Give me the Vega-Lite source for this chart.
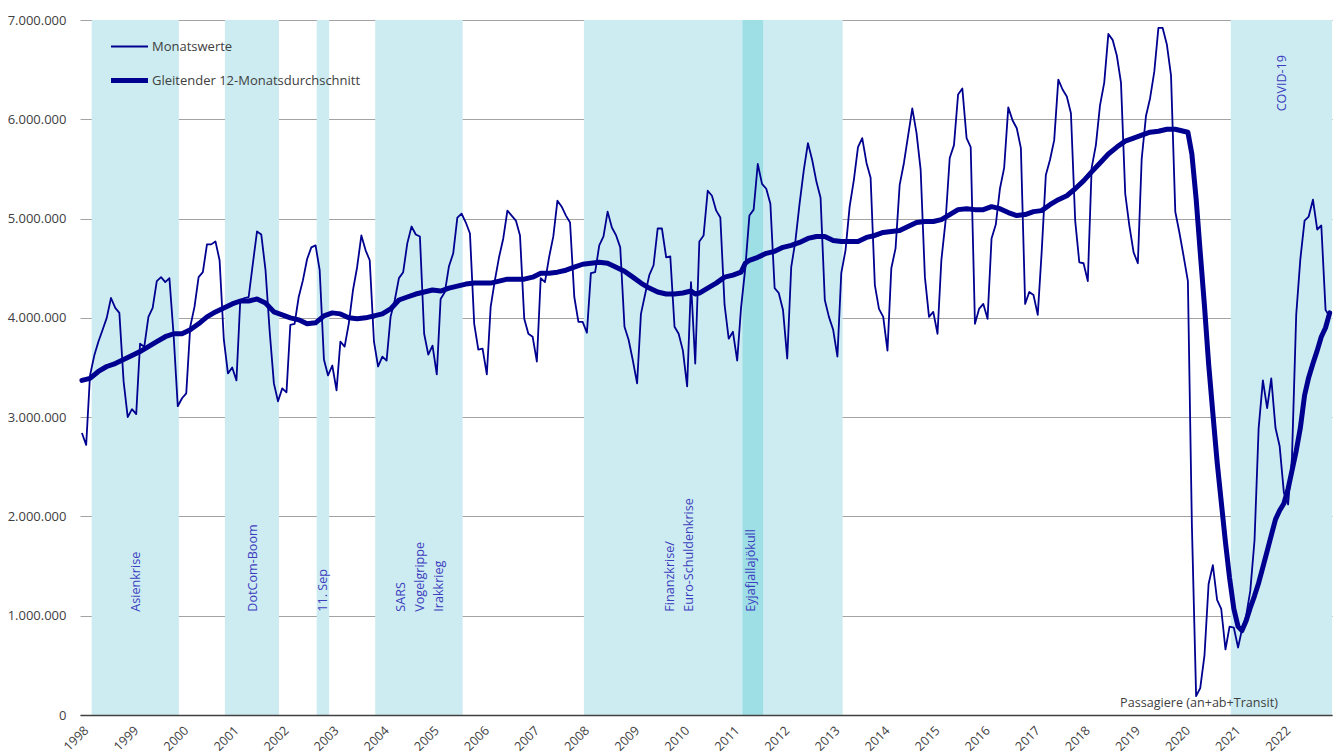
{
  "$schema": "https://vega.github.io/schema/vega-lite/v6.json",
  "width": 1252,
  "height": 695,
  "autosize": {"type": "none"},
  "padding": {"left": 80, "top": 20, "right": 4, "bottom": 39},
  "background": "white",
  "config": {
    "view": {"stroke": null},
    "font": "Open Sans",
    "locale": {"number": {"decimal": ",", "thousands": ".", "grouping": [3], "currency": ["", " €"]}}
  },
  "datasets": {
    "m": [
      {"d":"1998-01-15","v":2840000},{"d":"1998-02-15","v":2720000},{"d":"1998-03-15","v":3420000},{"d":"1998-04-15","v":3620000},{"d":"1998-05-15","v":3760000},{"d":"1998-06-15","v":3880000},{"d":"1998-07-15","v":4000000},{"d":"1998-08-15","v":4200000},{"d":"1998-09-15","v":4100000},{"d":"1998-10-15","v":4050000},{"d":"1998-11-15","v":3360000},{"d":"1998-12-15","v":3000000},
      {"d":"1999-01-15","v":3080000},{"d":"1999-02-15","v":3030000},{"d":"1999-03-15","v":3740000},{"d":"1999-04-15","v":3710000},{"d":"1999-05-15","v":4010000},{"d":"1999-06-15","v":4100000},{"d":"1999-07-15","v":4370000},{"d":"1999-08-15","v":4410000},{"d":"1999-09-15","v":4360000},{"d":"1999-10-15","v":4400000},{"d":"1999-11-15","v":3820000},{"d":"1999-12-15","v":3110000},
      {"d":"2000-01-15","v":3190000},{"d":"2000-02-15","v":3240000},{"d":"2000-03-15","v":3910000},{"d":"2000-04-15","v":4110000},{"d":"2000-05-15","v":4410000},{"d":"2000-06-15","v":4460000},{"d":"2000-07-15","v":4740000},{"d":"2000-08-15","v":4740000},{"d":"2000-09-15","v":4770000},{"d":"2000-10-15","v":4580000},{"d":"2000-11-15","v":3780000},{"d":"2000-12-15","v":3440000},
      {"d":"2001-01-15","v":3500000},{"d":"2001-02-15","v":3370000},{"d":"2001-03-15","v":4180000},{"d":"2001-04-15","v":4200000},{"d":"2001-05-15","v":4210000},{"d":"2001-06-15","v":4550000},{"d":"2001-07-15","v":4870000},{"d":"2001-08-15","v":4840000},{"d":"2001-09-15","v":4480000},{"d":"2001-10-15","v":3870000},{"d":"2001-11-15","v":3340000},{"d":"2001-12-15","v":3160000},
      {"d":"2002-01-15","v":3290000},{"d":"2002-02-15","v":3250000},{"d":"2002-03-15","v":3930000},{"d":"2002-04-15","v":3940000},{"d":"2002-05-15","v":4210000},{"d":"2002-06-15","v":4380000},{"d":"2002-07-15","v":4590000},{"d":"2002-08-15","v":4710000},{"d":"2002-09-15","v":4730000},{"d":"2002-10-15","v":4480000},{"d":"2002-11-15","v":3580000},{"d":"2002-12-15","v":3420000},
      {"d":"2003-01-15","v":3520000},{"d":"2003-02-15","v":3270000},{"d":"2003-03-15","v":3760000},{"d":"2003-04-15","v":3710000},{"d":"2003-05-15","v":3940000},{"d":"2003-06-15","v":4280000},{"d":"2003-07-15","v":4510000},{"d":"2003-08-15","v":4830000},{"d":"2003-09-15","v":4680000},{"d":"2003-10-15","v":4580000},{"d":"2003-11-15","v":3760000},{"d":"2003-12-15","v":3510000},
      {"d":"2004-01-15","v":3610000},{"d":"2004-02-15","v":3570000},{"d":"2004-03-15","v":4010000},{"d":"2004-04-15","v":4180000},{"d":"2004-05-15","v":4400000},{"d":"2004-06-15","v":4460000},{"d":"2004-07-15","v":4750000},{"d":"2004-08-15","v":4920000},{"d":"2004-09-15","v":4840000},{"d":"2004-10-15","v":4820000},{"d":"2004-11-15","v":3840000},{"d":"2004-12-15","v":3630000},
      {"d":"2005-01-15","v":3720000},{"d":"2005-02-15","v":3430000},{"d":"2005-03-15","v":4190000},{"d":"2005-04-15","v":4260000},{"d":"2005-05-15","v":4520000},{"d":"2005-06-15","v":4650000},{"d":"2005-07-15","v":5010000},{"d":"2005-08-15","v":5050000},{"d":"2005-09-15","v":4960000},{"d":"2005-10-15","v":4850000},{"d":"2005-11-15","v":3940000},{"d":"2005-12-15","v":3680000},
      {"d":"2006-01-15","v":3690000},{"d":"2006-02-15","v":3430000},{"d":"2006-03-15","v":4110000},{"d":"2006-04-15","v":4380000},{"d":"2006-05-15","v":4610000},{"d":"2006-06-15","v":4800000},{"d":"2006-07-15","v":5080000},{"d":"2006-08-15","v":5030000},{"d":"2006-09-15","v":4980000},{"d":"2006-10-15","v":4830000},{"d":"2006-11-15","v":3990000},{"d":"2006-12-15","v":3840000},
      {"d":"2007-01-15","v":3810000},{"d":"2007-02-15","v":3560000},{"d":"2007-03-15","v":4400000},{"d":"2007-04-15","v":4360000},{"d":"2007-05-15","v":4610000},{"d":"2007-06-15","v":4820000},{"d":"2007-07-15","v":5180000},{"d":"2007-08-15","v":5120000},{"d":"2007-09-15","v":5030000},{"d":"2007-10-15","v":4960000},{"d":"2007-11-15","v":4210000},{"d":"2007-12-15","v":3960000},
      {"d":"2008-01-15","v":3960000},{"d":"2008-02-15","v":3850000},{"d":"2008-03-15","v":4450000},{"d":"2008-04-15","v":4460000},{"d":"2008-05-15","v":4730000},{"d":"2008-06-15","v":4820000},{"d":"2008-07-15","v":5070000},{"d":"2008-08-15","v":4910000},{"d":"2008-09-15","v":4830000},{"d":"2008-10-15","v":4710000},{"d":"2008-11-15","v":3910000},{"d":"2008-12-15","v":3780000},
      {"d":"2009-01-15","v":3570000},{"d":"2009-02-15","v":3340000},{"d":"2009-03-15","v":4040000},{"d":"2009-04-15","v":4240000},{"d":"2009-05-15","v":4430000},{"d":"2009-06-15","v":4530000},{"d":"2009-07-15","v":4900000},{"d":"2009-08-15","v":4900000},{"d":"2009-09-15","v":4610000},{"d":"2009-10-15","v":4620000},{"d":"2009-11-15","v":3910000},{"d":"2009-12-15","v":3840000},
      {"d":"2010-01-15","v":3670000},{"d":"2010-02-15","v":3310000},{"d":"2010-03-15","v":4360000},{"d":"2010-04-15","v":3540000},{"d":"2010-05-15","v":4770000},{"d":"2010-06-15","v":4830000},{"d":"2010-07-15","v":5280000},{"d":"2010-08-15","v":5230000},{"d":"2010-09-15","v":5080000},{"d":"2010-10-15","v":5010000},{"d":"2010-11-15","v":4130000},{"d":"2010-12-15","v":3790000},
      {"d":"2011-01-15","v":3860000},{"d":"2011-02-15","v":3570000},{"d":"2011-03-15","v":4100000},{"d":"2011-04-15","v":4500000},{"d":"2011-05-15","v":5030000},{"d":"2011-06-15","v":5090000},{"d":"2011-07-15","v":5550000},{"d":"2011-08-15","v":5350000},{"d":"2011-09-15","v":5300000},{"d":"2011-10-15","v":5150000},{"d":"2011-11-15","v":4300000},{"d":"2011-12-15","v":4250000},
      {"d":"2012-01-15","v":4080000},{"d":"2012-02-15","v":3590000},{"d":"2012-03-15","v":4510000},{"d":"2012-04-15","v":4780000},{"d":"2012-05-15","v":5150000},{"d":"2012-06-15","v":5490000},{"d":"2012-07-15","v":5760000},{"d":"2012-08-15","v":5590000},{"d":"2012-09-15","v":5370000},{"d":"2012-10-15","v":5210000},{"d":"2012-11-15","v":4180000},{"d":"2012-12-15","v":4010000},
      {"d":"2013-01-15","v":3880000},{"d":"2013-02-15","v":3610000},{"d":"2013-03-15","v":4450000},{"d":"2013-04-15","v":4680000},{"d":"2013-05-15","v":5120000},{"d":"2013-06-15","v":5390000},{"d":"2013-07-15","v":5720000},{"d":"2013-08-15","v":5810000},{"d":"2013-09-15","v":5560000},{"d":"2013-10-15","v":5410000},{"d":"2013-11-15","v":4330000},{"d":"2013-12-15","v":4090000},
      {"d":"2014-01-15","v":4010000},{"d":"2014-02-15","v":3670000},{"d":"2014-03-15","v":4500000},{"d":"2014-04-15","v":4700000},{"d":"2014-05-15","v":5340000},{"d":"2014-06-15","v":5560000},{"d":"2014-07-15","v":5830000},{"d":"2014-08-15","v":6110000},{"d":"2014-09-15","v":5860000},{"d":"2014-10-15","v":5490000},{"d":"2014-11-15","v":4410000},{"d":"2014-12-15","v":4010000},
      {"d":"2015-01-15","v":4060000},{"d":"2015-02-15","v":3840000},{"d":"2015-03-15","v":4580000},{"d":"2015-04-15","v":4980000},{"d":"2015-05-15","v":5610000},{"d":"2015-06-15","v":5740000},{"d":"2015-07-15","v":6250000},{"d":"2015-08-15","v":6310000},{"d":"2015-09-15","v":5810000},{"d":"2015-10-15","v":5720000},{"d":"2015-11-15","v":3940000},{"d":"2015-12-15","v":4090000},
      {"d":"2016-01-15","v":4140000},{"d":"2016-02-15","v":3990000},{"d":"2016-03-15","v":4800000},{"d":"2016-04-15","v":4940000},{"d":"2016-05-15","v":5300000},{"d":"2016-06-15","v":5510000},{"d":"2016-07-15","v":6120000},{"d":"2016-08-15","v":5990000},{"d":"2016-09-15","v":5910000},{"d":"2016-10-15","v":5710000},{"d":"2016-11-15","v":4140000},{"d":"2016-12-15","v":4260000},
      {"d":"2017-01-15","v":4230000},{"d":"2017-02-15","v":4030000},{"d":"2017-03-15","v":4650000},{"d":"2017-04-15","v":5440000},{"d":"2017-05-15","v":5590000},{"d":"2017-06-15","v":5790000},{"d":"2017-07-15","v":6400000},{"d":"2017-08-15","v":6300000},{"d":"2017-09-15","v":6230000},{"d":"2017-10-15","v":6060000},{"d":"2017-11-15","v":4980000},{"d":"2017-12-15","v":4560000},
      {"d":"2018-01-15","v":4550000},{"d":"2018-02-15","v":4370000},{"d":"2018-03-15","v":5510000},{"d":"2018-04-15","v":5740000},{"d":"2018-05-15","v":6140000},{"d":"2018-06-15","v":6370000},{"d":"2018-07-15","v":6860000},{"d":"2018-08-15","v":6800000},{"d":"2018-09-15","v":6640000},{"d":"2018-10-15","v":6370000},{"d":"2018-11-15","v":5250000},{"d":"2018-12-15","v":4930000},
      {"d":"2019-01-15","v":4660000},{"d":"2019-02-15","v":4550000},{"d":"2019-03-15","v":5600000},{"d":"2019-04-15","v":6030000},{"d":"2019-05-15","v":6210000},{"d":"2019-06-15","v":6480000},{"d":"2019-07-15","v":6920000},{"d":"2019-08-15","v":6920000},{"d":"2019-09-15","v":6750000},{"d":"2019-10-15","v":6440000},{"d":"2019-11-15","v":5070000},{"d":"2019-12-15","v":4860000},
      {"d":"2020-01-15","v":4620000},{"d":"2020-02-15","v":4370000},{"d":"2020-03-15","v":1920000},{"d":"2020-04-15","v":190000},{"d":"2020-05-15","v":270000},{"d":"2020-06-15","v":600000},{"d":"2020-07-15","v":1320000},{"d":"2020-08-15","v":1510000},{"d":"2020-09-15","v":1160000},{"d":"2020-10-15","v":1070000},{"d":"2020-11-15","v":660000},{"d":"2020-12-15","v":890000},
      {"d":"2021-01-15","v":880000},{"d":"2021-02-15","v":680000},{"d":"2021-03-15","v":860000},{"d":"2021-04-15","v":1000000},{"d":"2021-05-15","v":1250000},{"d":"2021-06-15","v":1760000},{"d":"2021-07-15","v":2890000},{"d":"2021-08-15","v":3370000},{"d":"2021-09-15","v":3090000},{"d":"2021-10-15","v":3390000},{"d":"2021-11-15","v":2890000},{"d":"2021-12-15","v":2710000},
      {"d":"2022-01-15","v":2240000},{"d":"2022-02-15","v":2120000},{"d":"2022-03-15","v":2590000},{"d":"2022-04-15","v":4030000},{"d":"2022-05-15","v":4590000},{"d":"2022-06-15","v":4980000},{"d":"2022-07-15","v":5020000},{"d":"2022-08-15","v":5190000},{"d":"2022-09-15","v":4890000},{"d":"2022-10-15","v":4930000},{"d":"2022-11-15","v":4080000},{"d":"2022-12-15","v":4010000}
    ],
    "ma": [
      {"d":"1998-01-15","v":3370000},{"d":"1998-03-15","v":3390000},{"d":"1998-05-15","v":3460000},{"d":"1998-07-15","v":3510000},{"d":"1998-09-15","v":3540000},{"d":"1998-11-15","v":3580000},
      {"d":"1999-01-15","v":3620000},{"d":"1999-03-15","v":3660000},{"d":"1999-05-15","v":3710000},{"d":"1999-07-15","v":3760000},{"d":"1999-09-15","v":3810000},{"d":"1999-11-15","v":3840000},
      {"d":"2000-01-15","v":3840000},{"d":"2000-03-15","v":3880000},{"d":"2000-05-15","v":3940000},{"d":"2000-07-15","v":4010000},{"d":"2000-09-15","v":4060000},{"d":"2000-11-15","v":4100000},
      {"d":"2001-01-15","v":4140000},{"d":"2001-03-15","v":4170000},{"d":"2001-05-15","v":4170000},{"d":"2001-07-15","v":4190000},{"d":"2001-09-15","v":4150000},{"d":"2001-11-15","v":4060000},
      {"d":"2002-01-15","v":4030000},{"d":"2002-03-15","v":4000000},{"d":"2002-05-15","v":3980000},{"d":"2002-07-15","v":3940000},{"d":"2002-09-15","v":3950000},{"d":"2002-11-15","v":4020000},
      {"d":"2003-01-15","v":4050000},{"d":"2003-03-15","v":4040000},{"d":"2003-05-15","v":4000000},{"d":"2003-07-15","v":3990000},{"d":"2003-09-15","v":4000000},{"d":"2003-11-15","v":4020000},
      {"d":"2004-01-15","v":4040000},{"d":"2004-03-15","v":4090000},{"d":"2004-05-15","v":4180000},{"d":"2004-07-15","v":4210000},{"d":"2004-09-15","v":4240000},{"d":"2004-11-15","v":4260000},
      {"d":"2005-01-15","v":4280000},{"d":"2005-03-15","v":4270000},{"d":"2005-05-15","v":4300000},{"d":"2005-07-15","v":4320000},{"d":"2005-09-15","v":4340000},{"d":"2005-11-15","v":4350000},
      {"d":"2006-01-15","v":4350000},{"d":"2006-03-15","v":4350000},{"d":"2006-05-15","v":4370000},{"d":"2006-07-15","v":4390000},{"d":"2006-09-15","v":4390000},{"d":"2006-11-15","v":4390000},
      {"d":"2007-01-15","v":4410000},{"d":"2007-03-15","v":4450000},{"d":"2007-05-15","v":4450000},{"d":"2007-07-15","v":4460000},{"d":"2007-09-15","v":4480000},{"d":"2007-11-15","v":4510000},
      {"d":"2008-01-15","v":4540000},{"d":"2008-03-15","v":4550000},{"d":"2008-05-15","v":4560000},{"d":"2008-07-15","v":4550000},{"d":"2008-09-15","v":4510000},{"d":"2008-11-15","v":4470000},
      {"d":"2009-01-15","v":4410000},{"d":"2009-03-15","v":4350000},{"d":"2009-05-15","v":4300000},{"d":"2009-07-15","v":4260000},{"d":"2009-09-15","v":4240000},{"d":"2009-11-15","v":4240000},
      {"d":"2010-01-15","v":4250000},{"d":"2010-03-15","v":4270000},{"d":"2010-04-15","v":4240000},{"d":"2010-05-15","v":4250000},{"d":"2010-07-15","v":4300000},{"d":"2010-09-15","v":4350000},{"d":"2010-11-15","v":4410000},
      {"d":"2011-01-15","v":4430000},{"d":"2011-03-15","v":4460000},{"d":"2011-04-15","v":4550000},{"d":"2011-05-15","v":4580000},{"d":"2011-07-15","v":4610000},{"d":"2011-09-15","v":4650000},{"d":"2011-11-15","v":4670000},
      {"d":"2012-01-15","v":4710000},{"d":"2012-03-15","v":4730000},{"d":"2012-05-15","v":4760000},{"d":"2012-07-15","v":4800000},{"d":"2012-09-15","v":4820000},{"d":"2012-11-15","v":4820000},
      {"d":"2013-01-15","v":4780000},{"d":"2013-03-15","v":4770000},{"d":"2013-05-15","v":4770000},{"d":"2013-07-15","v":4770000},{"d":"2013-09-15","v":4810000},{"d":"2013-11-15","v":4830000},
      {"d":"2014-01-15","v":4860000},{"d":"2014-03-15","v":4870000},{"d":"2014-05-15","v":4880000},{"d":"2014-07-15","v":4920000},{"d":"2014-09-15","v":4960000},{"d":"2014-11-15","v":4970000},
      {"d":"2015-01-15","v":4970000},{"d":"2015-03-15","v":4990000},{"d":"2015-05-15","v":5040000},{"d":"2015-07-15","v":5090000},{"d":"2015-09-15","v":5100000},{"d":"2015-11-15","v":5090000},
      {"d":"2016-01-15","v":5090000},{"d":"2016-03-15","v":5120000},{"d":"2016-05-15","v":5100000},{"d":"2016-07-15","v":5060000},{"d":"2016-09-15","v":5030000},{"d":"2016-11-15","v":5040000},
      {"d":"2017-01-15","v":5070000},{"d":"2017-03-15","v":5080000},{"d":"2017-05-15","v":5140000},{"d":"2017-07-15","v":5190000},{"d":"2017-09-15","v":5230000},{"d":"2017-11-15","v":5300000},
      {"d":"2018-01-15","v":5380000},{"d":"2018-03-15","v":5470000},{"d":"2018-05-15","v":5560000},{"d":"2018-07-15","v":5650000},{"d":"2018-09-15","v":5720000},{"d":"2018-11-15","v":5780000},
      {"d":"2019-01-15","v":5810000},{"d":"2019-03-15","v":5840000},{"d":"2019-05-15","v":5870000},{"d":"2019-07-15","v":5880000},{"d":"2019-09-15","v":5900000},{"d":"2019-11-15","v":5900000},
      {"d":"2020-01-15","v":5880000},{"d":"2020-02-15","v":5870000},{"d":"2020-03-15","v":5650000},{"d":"2020-04-15","v":5200000},{"d":"2020-05-15","v":4660000},{"d":"2020-06-15","v":4120000},{"d":"2020-07-15","v":3540000},{"d":"2020-08-15","v":3040000},{"d":"2020-09-15","v":2550000},{"d":"2020-10-15","v":2150000},{"d":"2020-11-15","v":1740000},{"d":"2020-12-15","v":1380000},
      {"d":"2021-01-15","v":1070000},{"d":"2021-02-15","v":890000},{"d":"2021-03-15","v":850000},{"d":"2021-04-15","v":950000},{"d":"2021-05-15","v":1080000},{"d":"2021-06-15","v":1200000},{"d":"2021-07-15","v":1330000},{"d":"2021-08-15","v":1490000},{"d":"2021-09-15","v":1650000},{"d":"2021-10-15","v":1810000},{"d":"2021-11-15","v":1970000},{"d":"2021-12-15","v":2060000},
      {"d":"2022-01-15","v":2130000},{"d":"2022-02-15","v":2280000},{"d":"2022-03-15","v":2460000},{"d":"2022-04-15","v":2660000},{"d":"2022-05-15","v":2890000},{"d":"2022-06-15","v":3220000},{"d":"2022-07-15","v":3400000},{"d":"2022-08-15","v":3540000},{"d":"2022-09-15","v":3670000},{"d":"2022-10-15","v":3810000},{"d":"2022-11-15","v":3900000},{"d":"2022-12-15","v":4050000}
    ],
    "bands": [
      {"a":"1998-03-27","b":"1999-12-23","k":"l"},
      {"a":"2000-11-23","b":"2001-12-22","k":"l"},
      {"a":"2002-09-23","b":"2002-12-23","k":"l"},
      {"a":"2003-11-24","b":"2005-08-23","k":"l"},
      {"a":"2008-01-24","b":"2013-03-25","k":"l"},
      {"a":"2020-12-24","b":"2023-01-01","k":"l"},
      {"a":"2011-03-26","b":"2011-08-23","k":"d"}
    ],
    "labels": [
      {"d":"1999-02-13","y":1040000,"t":"Asienkrise"},
      {"d":"2001-06-16","y":1040000,"t":"DotCom-Boom"},
      {"d":"2002-11-06","y":1040000,"t":"11. Sep"},
      {"d":"2004-05-27","y":1040000,"t":"SARS\nVogelgrippe\nIrakkrieg"},
      {"d":"2009-10-15","y":1040000,"t":"Finanzkrise/\nEuro-Schuldenkrise"},
      {"d":"2011-05-28","y":1040000,"t":"Eyjafjallajökull"},
      {"d":"2022-01-01","y":6080000,"t":"COVID-19"}
    ]
  },
  "layer": [
    {
      "data": {"name": "bands"},
      "mark": {"type": "rect"},
      "encoding": {
        "x": {
          "field": "a", "type": "temporal",
          "scale": {"type": "utc", "domain": [{"year": 1998, "month": 1, "date": 1, "utc": true}, {"year": 2023, "month": 1, "date": 1, "utc": true}]},
          "axis": {
            "title": null, "format": "%Y",
            "values": [
              {"year": 1998, "utc": true}, {"year": 1999, "utc": true}, {"year": 2000, "utc": true}, {"year": 2001, "utc": true}, {"year": 2002, "utc": true},
              {"year": 2003, "utc": true}, {"year": 2004, "utc": true}, {"year": 2005, "utc": true}, {"year": 2006, "utc": true}, {"year": 2007, "utc": true},
              {"year": 2008, "utc": true}, {"year": 2009, "utc": true}, {"year": 2010, "utc": true}, {"year": 2011, "utc": true}, {"year": 2012, "utc": true},
              {"year": 2013, "utc": true}, {"year": 2014, "utc": true}, {"year": 2015, "utc": true}, {"year": 2016, "utc": true}, {"year": 2017, "utc": true},
              {"year": 2018, "utc": true}, {"year": 2019, "utc": true}, {"year": 2020, "utc": true}, {"year": 2021, "utc": true}, {"year": 2022, "utc": true}
            ],
            "labelAngle": -45, "labelAlign": "right", "labelBaseline": "middle", "labelPadding": 13, "labelOffset": 6,
            "ticks": false, "grid": false, "domainColor": "#404040", "domainWidth": 1.5,
            "labelFont": "Open Sans", "labelFontSize": 12.6, "labelColor": "#404040",
            "labelOverlap": false, "labelFlush": false, "zindex": 1
          }
        },
        "x2": {"field": "b"},
        "y": {
          "datum": 0, "type": "quantitative",
          "scale": {"domain": [0, 7000000], "nice": false},
          "axis": {
            "title": null, "values": [0, 1000000, 2000000, 3000000, 4000000, 5000000, 6000000, 7000000],
            "format": ",d", "grid": true, "gridColor": "#a3a3a3", "gridWidth": 1, "domain": false, "ticks": false,
            "labelPadding": 14, "labelFont": "Open Sans", "labelFontSize": 13, "labelColor": "#404040"
          }
        },
        "y2": {"datum": 7000000},
        "fill": {"field": "k", "type": "nominal", "scale": {"domain": ["l", "d"], "range": ["#CCECF1", "#9DDFE5"]}, "legend": null}
      }
    },
    {
      "data": {"name": "labels"},
      "mark": {"type": "text", "angle": -90, "align": "left", "baseline": "middle", "font": "Open Sans", "fontSize": 12.6, "color": "#3c3cbe", "lineBreak": "\n", "lineHeight": 19},
      "encoding": {
        "x": {"field": "d", "type": "temporal"},
        "y": {"field": "y", "type": "quantitative"},
        "text": {"field": "t"}
      }
    },
    {
      "data": {"values": [{"t": "Passagiere (an+ab+Transit)"}]},
      "mark": {"type": "text", "align": "right", "baseline": "middle", "font": "Open Sans", "fontSize": 12.6, "color": "#404040"},
      "encoding": {
        "x": {"datum": {"year": 2021, "month": 12, "date": 3, "utc": true}, "type": "temporal"},
        "y": {"datum": 121000, "type": "quantitative"},
        "text": {"field": "t"}
      }
    },
    {
      "data": {"name": "m"},
      "mark": {"type": "line", "strokeWidth": 1.8, "strokeJoin": "round"},
      "encoding": {
        "x": {"field": "d", "type": "temporal"},
        "y": {"field": "v", "type": "quantitative"},
        "stroke": {
          "datum": "Monatswerte", "type": "nominal",
          "scale": {"domain": ["Monatswerte", "Gleitender 12-Monatsdurchschnitt"], "range": ["#000090", "#000090"]},
          "legend": {
            "orient": "none", "legendX": 30, "legendY": 20, "title": null, "symbolType": "stroke", "symbolSize": 1369,
            "symbolStrokeColor": "#000090", "symbolOffset": 13, "labelFont": "Open Sans", "labelFontSize": 13, "labelColor": "#404040",
            "labelLimit": 500, "rowPadding": 16, "padding": 0, "labelOffset": 16,
            "encode": {"symbols": {"update": {"strokeWidth": {"signal": "datum.value === 'Monatswerte' ? 1.8 : 5"}}}}
          }
        }
      }
    },
    {
      "data": {"name": "ma"},
      "mark": {"type": "line", "strokeWidth": 5, "strokeJoin": "round", "strokeCap": "round"},
      "encoding": {
        "x": {"field": "d", "type": "temporal"},
        "y": {"field": "v", "type": "quantitative"},
        "stroke": {"datum": "Gleitender 12-Monatsdurchschnitt", "type": "nominal"}
      }
    }
  ]
}
